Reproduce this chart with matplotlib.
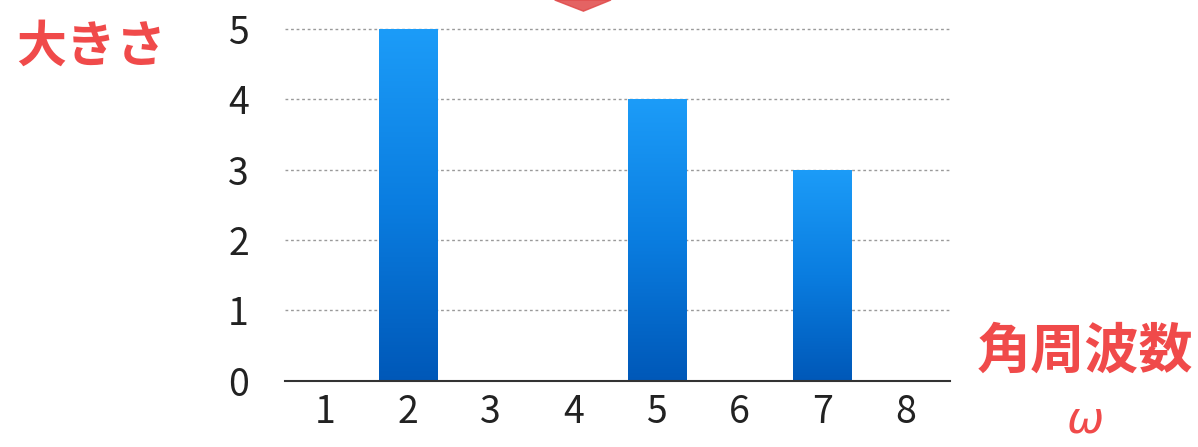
import numpy as np
import matplotlib.pyplot as plt
from matplotlib.colors import LinearSegmentedColormap
from matplotlib.patches import Polygon

plt.rcParams['font.family'] = ['Noto Sans CJK JP', 'DejaVu Sans']

# data
freqs = [1, 2, 3, 4, 5, 6, 7, 8]
amps = [0, 5, 0, 0, 4, 0, 3, 0]
y_ticks = [0, 1, 2, 3, 4, 5]
y_label = '大きさ'
x_label = '角周波数'
x_symbol = 'ω'

RED = '#f04a4a'
bar_w = 0.7

fig = plt.figure(figsize=(11.98, 4.47), dpi=100)
ax = fig.add_axes([0.238, 0.148, 0.555, 0.852])
ax.set_xlim(0.52, 8.54)
ax.set_ylim(0, 5 * 0.852 / 0.787)

# blue gradient bars
cmap = LinearSegmentedColormap.from_list('bl', ['#0058b8', '#0a7de0', '#1c9cf8'])
grad = np.linspace(0, 1, 256).reshape(-1, 1)
bars = ax.bar(freqs, amps, width=bar_w, color='none', zorder=3)
for b, v in zip(bars, amps):
    if v <= 0:
        continue
    x0 = b.get_x()
    im = ax.imshow(grad, cmap=cmap, aspect='auto', origin='lower',
                   extent=[x0, x0 + bar_w, 0, v], zorder=3)
    im.set_clip_path(b)

for y in y_ticks[1:]:
    ax.axhline(y, color='#9a9a9a', lw=1.0, ls=(0, (2, 2)), zorder=1)

for s in ['top', 'right', 'left']:
    ax.spines[s].set_visible(False)
ax.spines['bottom'].set_color('#333333')
ax.spines['bottom'].set_linewidth(1.5)
ax.spines['bottom'].set_zorder(4)

ax.set_xticks(freqs)
ax.set_yticks(y_ticks)
ax.tick_params(length=0, labelsize=27, colors='#222222')
ax.tick_params(axis='y', pad=26)
ax.tick_params(axis='x', pad=9)

fig.text(0.076, 0.895, y_label, color=RED, fontsize=36, ha='center', va='center',
         fontweight='bold')
fig.text(0.906, 0.212, x_label, color=RED, fontsize=39, ha='center', va='center',
         fontweight='bold')
fig.text(0.906, 0.012, x_symbol, color=RED, fontsize=32, ha='center', va='bottom',
         style='italic', family=['DejaVu Sans'])

# red arrow tip at the top
fig.patches.append(Polygon([[0.463, 1.0], [0.51, 1.0], [0.487, 0.975]],
                           closed=True, transform=fig.transFigure,
                           color='#e04848', alpha=0.85))

fig.savefig('out.png', dpi=100)
